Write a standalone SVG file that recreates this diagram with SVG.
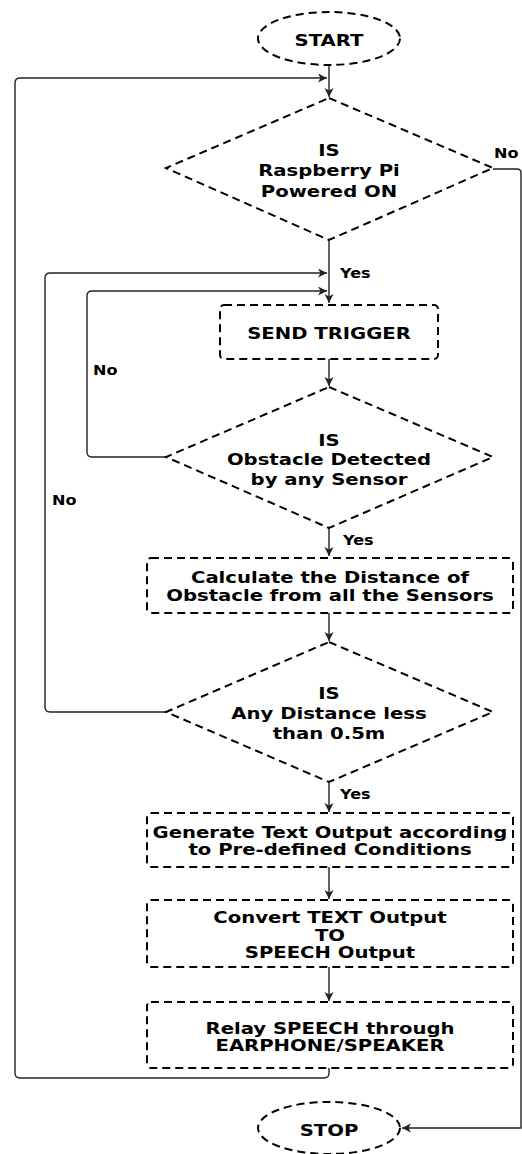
<svg xmlns="http://www.w3.org/2000/svg" width="522" height="1154" viewBox="0 0 522 1154">
  <defs>
    <style>
      .shape { fill: #ffffff; stroke: #000000; stroke-width: 2; stroke-dasharray: 8 5; }
      .wire { fill: none; stroke: #222222; stroke-width: 1.4; }
      .t { font-family: "DejaVu Sans", Verdana, sans-serif; font-weight: bold; font-size: 16.5px; text-anchor: middle; fill: #000000; }
      .lbl { font-family: "DejaVu Sans", Verdana, sans-serif; font-weight: bold; font-size: 13.5px; fill: #000000; }
    </style>
    <marker id="arrow" markerUnits="userSpaceOnUse" markerWidth="10" markerHeight="10" refX="9" refY="4.5" orient="auto">
      <path d="M0,0 L9,4.5 L0,9 L2.5,4.5 z" fill="#222222"/>
    </marker>
  </defs>

  <rect width="522" height="1154" fill="#ffffff"/>

  <!-- connectors -->
  <g id="connectors">
    <path class="wire" d="M329,65 V97" marker-end="url(#arrow)"/>
    <path class="wire" d="M329,240 V303" marker-end="url(#arrow)"/>
    <path class="wire" d="M329,359 V386" marker-end="url(#arrow)"/>
    <path class="wire" d="M329,528 V556" marker-end="url(#arrow)"/>
    <path class="wire" d="M329,613 V641" marker-end="url(#arrow)"/>
    <path class="wire" d="M329,782 V812" marker-end="url(#arrow)"/>
    <path class="wire" d="M329,867 V899" marker-end="url(#arrow)"/>
    <path class="wire" d="M329,967 V1001" marker-end="url(#arrow)"/>
    <!-- relay back to power check -->
    <path class="wire" d="M329,1068 V1073 Q329,1078 324,1078 H20 Q15,1078 15,1073 V83 Q15,78 20,78 H327" marker-end="url(#arrow)"/>
    <!-- distance not below threshold -->
    <path class="wire" d="M166,712 H50 Q45,712 45,707 V278 Q45,273 50,273 H327" marker-end="url(#arrow)"/>
    <!-- no obstacle detected -->
    <path class="wire" d="M166,457 H92 Q87,457 87,452 V296 Q87,291 92,291 H327" marker-end="url(#arrow)"/>
    <!-- not powered: go to stop -->
    <path class="wire" d="M493,169 H517 Q521,169 521,173 V1128 H402" marker-end="url(#arrow)"/>

    <text class="lbl" transform="translate(494 0) scale(1.19 1)" x="0" y="158">No</text>
    <text class="lbl" transform="translate(340 0) scale(1.19 1)" x="0" y="278">Yes</text>
    <text class="lbl" transform="translate(93 0) scale(1.19 1)" x="0" y="375">No</text>
    <text class="lbl" transform="translate(52 0) scale(1.19 1)" x="0" y="505">No</text>
    <text class="lbl" transform="translate(343 0) scale(1.19 1)" x="0" y="545">Yes</text>
    <text class="lbl" transform="translate(340 0) scale(1.19 1)" x="0" y="799">Yes</text>
  </g>

  <g id="start">
    <ellipse class="shape" cx="329" cy="38.5" rx="71" ry="26.5"/>
    <text class="t" transform="translate(329 0) scale(1.19 1)" x="0" y="46">START</text>
  </g>

  <g id="power-check">
    <polygon class="shape" points="329,98 493,168 329,240 166,168"/>
    <g class="t" transform="translate(329 0) scale(1.19 1)">
      <text class="t" x="0" y="156">IS</text>
      <text class="t" x="0" y="176">Raspberry Pi</text>
      <text class="t" x="0" y="197">Powered ON</text>
    </g>
  </g>

  <g id="send-trigger">
    <rect class="shape" x="220" y="305" width="218" height="54" rx="4"/>
    <text class="t" transform="translate(329 0) scale(1.19 1)" x="0" y="339">SEND TRIGGER</text>
  </g>

  <g id="obstacle-check">
    <polygon class="shape" points="329,387 493,457 329,528 166,457"/>
    <g transform="translate(329 0) scale(1.19 1)">
      <text class="t" x="0" y="446">IS</text>
      <text class="t" x="0" y="465">Obstacle Detected</text>
      <text class="t" x="0" y="485">by any Sensor</text>
    </g>
  </g>

  <g id="calculate-distance">
    <rect class="shape" x="147" y="558" width="366" height="55" rx="4"/>
    <g transform="translate(330 0) scale(1.19 1)">
      <text class="t" x="0" y="583">Calculate the Distance of</text>
      <text class="t" x="0" y="601">Obstacle from all the Sensors</text>
    </g>
  </g>

  <g id="distance-check">
    <polygon class="shape" points="329,642 493,712 329,782 166,712"/>
    <g transform="translate(329 0) scale(1.19 1)">
      <text class="t" x="0" y="699">IS</text>
      <text class="t" x="0" y="719">Any Distance less</text>
      <text class="t" x="0" y="739">than 0.5m</text>
    </g>
  </g>

  <g id="generate-text">
    <rect class="shape" x="147" y="813" width="366" height="54" rx="4"/>
    <g transform="translate(330 0) scale(1.19 1)">
      <text class="t" x="0" y="838">Generate Text Output according</text>
      <text class="t" x="0" y="855">to Pre-defined Conditions</text>
    </g>
  </g>

  <g id="text-to-speech">
    <rect class="shape" x="147" y="900" width="366" height="67" rx="4"/>
    <g transform="translate(330 0) scale(1.19 1)">
      <text class="t" x="0" y="923">Convert TEXT Output</text>
      <text class="t" x="0" y="941">TO</text>
      <text class="t" x="0" y="958">SPEECH Output</text>
    </g>
  </g>

  <g id="relay-speech">
    <rect class="shape" x="147" y="1002" width="366" height="66" rx="4"/>
    <g transform="translate(330 0) scale(1.19 1)">
      <text class="t" x="0" y="1034">Relay SPEECH through</text>
      <text class="t" x="0" y="1051">EARPHONE/SPEAKER</text>
    </g>
  </g>

  <g id="stop">
    <ellipse class="shape" cx="329" cy="1128" rx="71" ry="26"/>
    <text class="t" transform="translate(329 0) scale(1.19 1)" x="0" y="1136">STOP</text>
  </g>
</svg>
